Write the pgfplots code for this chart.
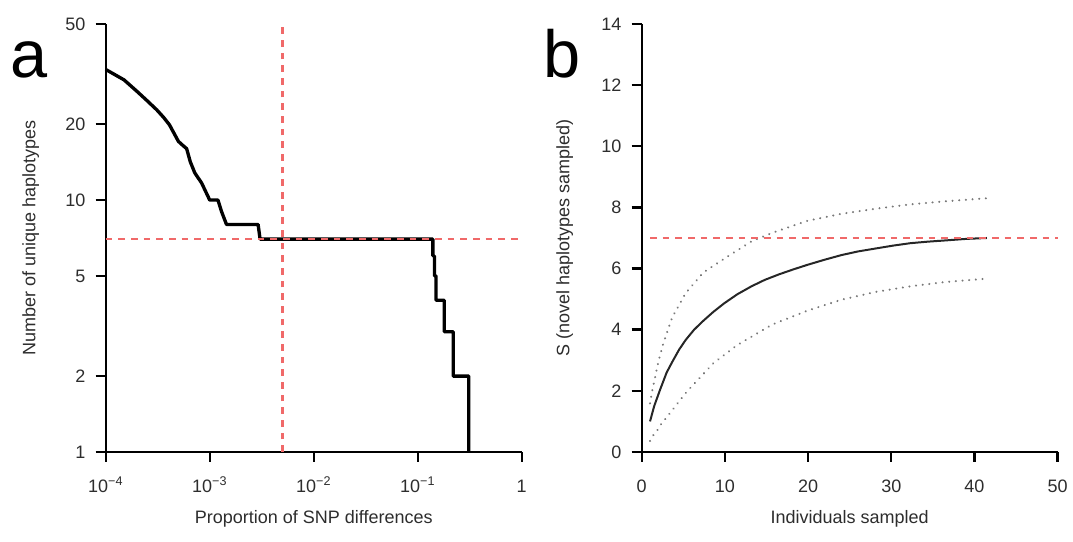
\documentclass[border=0pt]{standalone}
\usepackage{fontspec}
\setmainfont{Liberation Sans}
\usepackage{pgfplots}
\pgfplotsset{compat=1.18}
\definecolor{refred}{RGB}{240,105,105}
\definecolor{txt}{RGB}{45,45,45}
\definecolor{dotgray}{RGB}{120,120,120}

\pgfplotsset{
  myaxis/.style={
    scale only axis, width=312pt, height=321pt,
    axis lines*=left,
    axis line style={line width=1.8pt, black},
    tick align=outside, major tick length=7.5pt,
    tick style={line width=1.8pt, black},
    enlargelimits=false, clip=false,
    /pgf/number format/assume math mode=true,
    font=\fontsize{13.5}{16}\selectfont,
    xticklabel style={anchor=base, yshift=-23pt, inner sep=0pt, text=txt},
    yticklabel style={anchor=east, xshift=-7.5pt, inner sep=0pt, text=txt},
    xlabel style={at={(axis description cs:0.5,-0.157)}, anchor=center, text=txt},
    ylabel style={anchor=center, rotate=0, text=txt},
  },
}

\begin{document}
\begin{tikzpicture}
\useasboundingbox (-79.3pt,-67.5pt) rectangle (725.5pt,339pt);

% ---------------- panel a ----------------
\begin{axis}[myaxis, at={(0pt,0pt)}, anchor=south west,
  xmode=log, ymode=log,
  xmin=1e-4, xmax=1, ymin=1, ymax=50,
  xminorticks=false, yminorticks=false,
  xtick={1e-4,1e-3,1e-2,1e-1,1},
  xticklabels={10\textsuperscript{−4},10\textsuperscript{−3},10\textsuperscript{−2},10\textsuperscript{−1},1},
  ytick={1,2,5,10,20,50},
  yticklabels={1,2,5,10,20,50},
  xlabel={Proportion of SNP differences},
  ylabel={Number of unique haplotypes},
  ylabel style={at={(axis description cs:-0.18,0.5)}},
]
\addplot[black, line width=2.5pt, line join=round] coordinates {
(1e-4,33) (1.5e-4,30) (2.0e-4,27.0) (2.5e-4,24.8) (3.1e-4,22.8) (3.6e-4,21.3)
(4.1e-4,19.9) (5.0e-4,17.1) (5.5e-4,16.5) (6.0e-4,16.0) (6.5e-4,14.2) (7.2e-4,12.8)
(8.35e-4,11.7) (1.0e-3,10) (1.2e-3,10) (1.3e-3,9) (1.45e-3,8) (2.92e-3,8)
(3.05e-3,7) (0.14,7) (0.14,6) (0.145,6) (0.145,5) (0.15,5) (0.15,4)
(0.18,4) (0.18,3) (0.22,3) (0.22,2) (0.31,2) (0.31,1)
};
\addplot[refred, line width=1.8pt, dash pattern=on 5pt off 4.5pt] coordinates {(1e-4,7) (1,7)};
\addplot[refred, line width=1.8pt, dash pattern=on 5pt off 4.5pt] coordinates {(0.005,1) (0.005,50)};
\end{axis}

% ---------------- panel b ----------------
\begin{axis}[myaxis, at={(402pt,0pt)}, anchor=south west,
  xmin=0, xmax=50, ymin=0, ymax=14,
  xtick={0,10,...,50}, ytick={0,2,...,14},
  xlabel={Individuals sampled},
  ylabel={S (novel haplotypes sampled)},
  ylabel style={at={(axis description cs:-0.185,0.5)}},
]
% upper bound (dotted)
\addplot[dotgray, line width=1.7pt, line cap=round, dash pattern=on 0.01pt off 5pt] coordinates {
(1,1.59) (1.3,2.05) (1.5,2.3) (2.0,2.95) (2.6,3.55) (3.66,4.4) (5.3,5.2) (7.4,5.87)
(9.9,6.32) (13.2,6.89) (15.7,7.17) (19.9,7.56) (24,7.79) (28.2,7.96)
(32.3,8.1) (36.5,8.2) (41.5,8.3)
};
% lower bound (dotted)
\addplot[dotgray, line width=1.7pt, line cap=round, dash pattern=on 0.01pt off 5pt] coordinates {
(1,0.36) (1.4,0.55) (1.9,0.72) (2.4,0.94) (2.9,1.1) (4.0,1.48) (5.1,1.87)
(6.2,2.2) (8.6,2.9) (11.5,3.5) (15.7,4.17) (19.9,4.62) (24,4.98)
(28.2,5.24) (32.3,5.42) (36.5,5.56) (41.5,5.67)
};
% mean (solid)
\addplot[black!85, line width=1.5pt, line join=round] coordinates {
(1,1.0) (1.5,1.5) (2.2,2.03) (3,2.6) (3.66,2.94) (4.5,3.35) (5.3,3.67) (6.3,4.0)
(7.4,4.29) (8.6,4.58) (9.9,4.86) (11.5,5.16) (13.2,5.42) (14.8,5.63) (16.5,5.81)
(18.2,5.97) (19.9,6.12) (22,6.29) (24,6.44) (26,6.56) (28.2,6.66) (30.2,6.75)
(32.3,6.83) (34.4,6.88) (36.5,6.92) (39,6.97) (41.5,7.0)
};
\addplot[refred, line width=1.8pt, dash pattern=on 5pt off 4.5pt] coordinates {(1,7) (50,7)};
\end{axis}

\node[anchor=base west, inner sep=0pt, font=\fontsize{50}{60}\selectfont] at (-71.8pt,281pt) {a};
\node[anchor=base west, inner sep=0pt, font=\fontsize{50}{60}\selectfont] at (328pt,281pt) {b};
\end{tikzpicture}
\end{document}
